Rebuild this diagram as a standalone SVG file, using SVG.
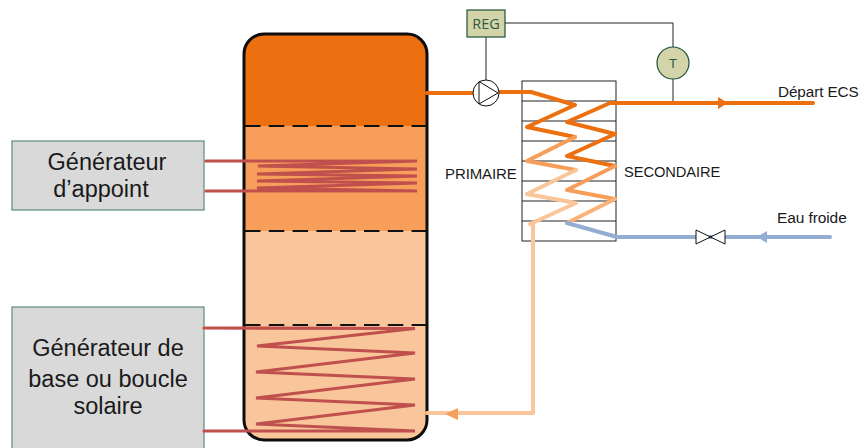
<svg xmlns="http://www.w3.org/2000/svg" width="861" height="448" viewBox="0 0 861 448">
<style>
text{font-family:"Liberation Sans",Arial,sans-serif;fill:#1a1a1a}
.big{font-size:23.500px;text-anchor:middle}
.small{font-size:15px;letter-spacing:-0.100px}
.box{fill:#d9d9d9;stroke:#5f8a78;stroke-width:1.2}
.dash{fill:none;stroke:#111;stroke-width:2;stroke-dasharray:15.5 8.3}
.coil{fill:none;stroke:#c0504d;stroke-width:3.2;stroke-linejoin:miter;stroke-linecap:round}
.pipe{fill:none;stroke-width:4;stroke-linecap:round;stroke-linejoin:round}
.hot{stroke:#ec7010}.mid{stroke:#f79e5a}.cold{stroke:#fbc59a}.blue{stroke:#94aed3}
.thin{fill:none;stroke:#222;stroke-width:1}
.ctl{fill:#d3d4a9;stroke:#1f5138;stroke-width:1.2}
</style>
<g id="reservoir">
<path d="M244 126V54a20 20 0 0 1 20-20H407a20 20 0 0 1 20 20V126Z" fill="#ec7010"/>
<rect x="244" y="126" width="183" height="105" fill="#f79e5a"/>
<path d="M244 231H427V420a20 20 0 0 1-20 20H264a20 20 0 0 1-20-20Z" fill="#f9c59a"/>
<rect x="244" y="34" width="183" height="406" rx="20" fill="none" stroke="#0d0d0d" stroke-width="3"/>
<path class="dash" d="M245 126H426M245 231H426M245 325H426"/>
</g>
<g id="generateur-appoint">
<rect class="box" x="12" y="141" width="192" height="69"/>
<text class="big" x="107" y="170">Générateur</text>
<text class="big" x="101" y="197">d’appoint</text>
</g>
<g id="generateur-base">
<rect class="box" x="12" y="307" width="192" height="145"/>
<text class="big" x="108" y="356">Générateur de</text>
<text class="big" x="108" y="387">base ou boucle</text>
<text class="big" x="108" y="414">solaire</text>
</g>
<g id="echangeur">
<rect x="522" y="81" width="94" height="160" fill="none" stroke="#222" stroke-width="1"/>
<path class="thin" d="M522 101H616M522 121H616M522 141H616M522 161H616M522 181H616M522 201H616M522 221H616"/>
</g>
<g id="connecteurs">
<path class="coil" d="M206 161H417L258 166L417 169L257 174L417 176L257 181L417 183L257 188L417 191H206"/>
<path class="coil" d="M204 328L415 328.500L257 346L415 353L256 372L415 379L256 398L415 405L256 424L415 431H204"/>
<path class="thin" d="M486 37V80M505 23H673V47M673 79V103"/>
<path class="pipe hot" d="M427 93H474M498 92H531L575 105L527 127L575 137"/>
<path class="pipe mid" d="M575 137L527 161L576 170"/>
<path class="pipe cold" d="M576 170L527 194L576 203L530 224M533 225V413H427"/>
<path class="pipe hot" d="M813 103H610L567 122L615 134L567 156L615 166"/>
<path class="pipe mid" d="M615 166L567 190L615 199"/>
<path class="pipe cold" d="M615 199L567 223" style="stroke:#fab27a"/>
<path class="pipe blue" d="M567 223L617 237H830"/>
<path d="M718 97L728 103L718 109Z" fill="#ec7010"/>
<path d="M757 237L767 231V243Z" fill="#94aed3"/>
<path d="M445 414L458 408V420Z" fill="#f79e5a"/>
</g>
<g id="pompe">
<circle cx="486" cy="93" r="13" fill="#fff" stroke="#111" stroke-width="1"/>
<path d="M479 81.500V104L498 93Z" fill="none" stroke="#111" stroke-width="1"/>
</g>
<g id="vanne">
<path d="M696 230L725 244V230L696 244Z" fill="#fff" stroke="#111" stroke-width="1"/>
</g>
<g id="reg">
<rect class="ctl" x="467" y="10" width="38" height="27"/>
<text x="486" y="29" text-anchor="middle" style="font-family:'Open Sans',sans-serif;font-size:14.500px;fill:#2f5a41">REG</text>
</g>
<g id="t">
<circle class="ctl" cx="673" cy="63" r="16"/>
<text x="673" y="68" text-anchor="middle" style="font-size:13px;fill:#2f5a41">T</text>
</g>
<g id="labels">
<text class="small" x="445" y="179">PRIMAIRE</text>
<text class="small" x="624" y="177" style="font-size:14.700px">SECONDAIRE</text>
<text class="small" x="778" y="97" style="font-size:15.300px">Départ ECS</text>
<text class="small" x="777" y="223" style="font-size:15.500px">Eau froide</text>
</g>
</svg>
